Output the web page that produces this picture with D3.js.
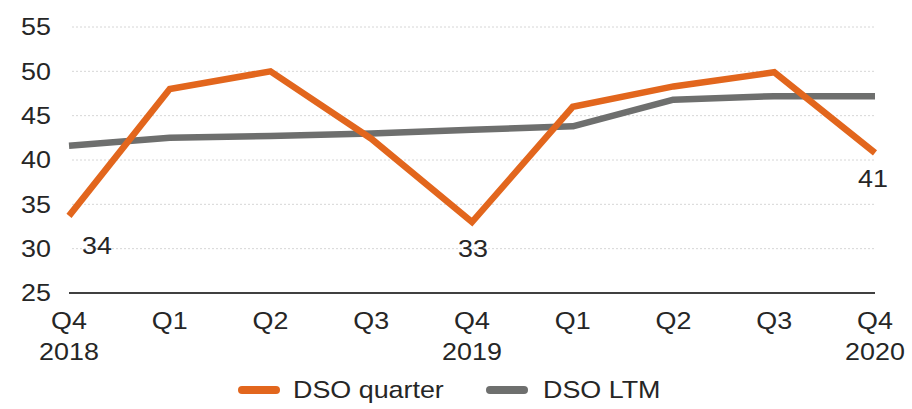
<!DOCTYPE html>
<html>
<head>
<meta charset="utf-8">
<script src="https://cdn.jsdelivr.net/npm/d3@7"></script>
<style>
  body { margin: 0; background: #fff; }
  svg text { font-family: "Liberation Sans", Arial, sans-serif; fill: #262626; font-size: 24px; }
</style>
</head>
<body>
<div id="chart"></div>
<script>
var quarters = ["Q4", "Q1", "Q2", "Q3", "Q4", "Q1", "Q2", "Q3", "Q4"];
var years = ["2018", "", "", "", "2019", "", "", "", "2020"];
var dsoQuarter = [33.7, 48.0, 50.0, 42.4, 33.0, 46.0, 48.3, 49.9, 40.8];
var dsoLtm = [41.6, 42.5, 42.7, 43.0, 43.4, 43.8, 46.8, 47.2, 47.2];
var yTicks = [25, 30, 35, 40, 45, 50, 55];
var labelled = [
  { i: 0, text: "34", dx: 28, dy: 30 },
  { i: 4, text: "33", dx: 1, dy: 27 },
  { i: 8, text: "41", dx: -2, dy: 26 }
];

var width = 912, height = 409;
var margin = { top: 27, right: 37, bottom: 116, left: 69 };
var stretch = 1.12;

var svg = d3.select("#chart").append("svg")
  .attr("width", width)
  .attr("height", height);

var x = d3.scalePoint()
  .domain(d3.range(quarters.length))
  .range([margin.left, width - margin.right]);

var y = d3.scaleLinear()
  .domain([25, 55])
  .range([height - margin.bottom, margin.top]);

// text drawn a bit wider than the font, like the original
function label(sel, px, py, anchor, txt) {
  return sel.append("g")
    .attr("transform", (d, i) => "translate(" + px(d, i) + "," + py(d, i) + ") scale(" + stretch + ",1)")
    .append("text")
    .attr("dy", "0.35em")
    .attr("text-anchor", anchor)
    .text(txt);
}

// gridlines
svg.append("g")
  .selectAll("line")
  .data(yTicks.slice(1))
  .join("line")
  .attr("x1", margin.left + 3)
  .attr("x2", width - margin.right)
  .attr("y1", (d) => y(d))
  .attr("y2", (d) => y(d))
  .attr("stroke", "#d6d6d6")
  .attr("stroke-width", 1)
  .attr("stroke-dasharray", "2,2");

// y axis labels
var yl = svg.append("g").selectAll("g").data(yTicks).join("g");
label(yl, () => 51, (d) => y(d), "end", (d) => d);

// x axis line
svg.append("line")
  .attr("x1", margin.left)
  .attr("x2", width - margin.right)
  .attr("y1", y(25))
  .attr("y2", y(25))
  .attr("stroke", "#404040")
  .attr("stroke-width", 2);

// x labels
var xl = svg.append("g").selectAll("g").data(quarters).join("g");
label(xl, (d, i) => x(i), () => y(25) + 28, "middle", (d) => d);
var yr = svg.append("g").selectAll("g").data(years).join("g");
label(yr, (d, i) => x(i), () => y(25) + 59, "middle", (d) => d);

var line = d3.line()
  .x((d, i) => x(i))
  .y((d) => y(d));

svg.append("path")
  .datum(dsoLtm)
  .attr("fill", "none")
  .attr("stroke", "#6e6f6e")
  .attr("stroke-width", 6.5)
  .attr("stroke-linejoin", "round")
  .attr("d", line);

svg.append("path")
  .datum(dsoQuarter)
  .attr("fill", "none")
  .attr("stroke", "#e2661d")
  .attr("stroke-width", 6.5)
  .attr("stroke-linejoin", "miter")
  .attr("d", line);

// data labels
var dl = svg.append("g").selectAll("g").data(labelled).join("g");
label(dl, (d) => x(d.i) + d.dx, (d) => y(dsoQuarter[d.i]) + d.dy, "middle", (d) => d.text);

// legend
var legend = [
  { name: "DSO quarter", color: "#e2661d", x: 238 },
  { name: "DSO LTM", color: "#6e6f6e", x: 486 }
];
var lg = svg.append("g")
  .selectAll("g")
  .data(legend)
  .join("g")
  .attr("transform", (d) => "translate(" + d.x + ",390)");
lg.append("line")
  .attr("x1", 4).attr("x2", 38)
  .attr("stroke", (d) => d.color)
  .attr("stroke-width", 8)
  .attr("stroke-linecap", "round");
label(lg, (d) => (d.name === "DSO LTM" ? 57 : 55), () => 0, "start", (d) => d.name);
</script>
</body>
</html>
